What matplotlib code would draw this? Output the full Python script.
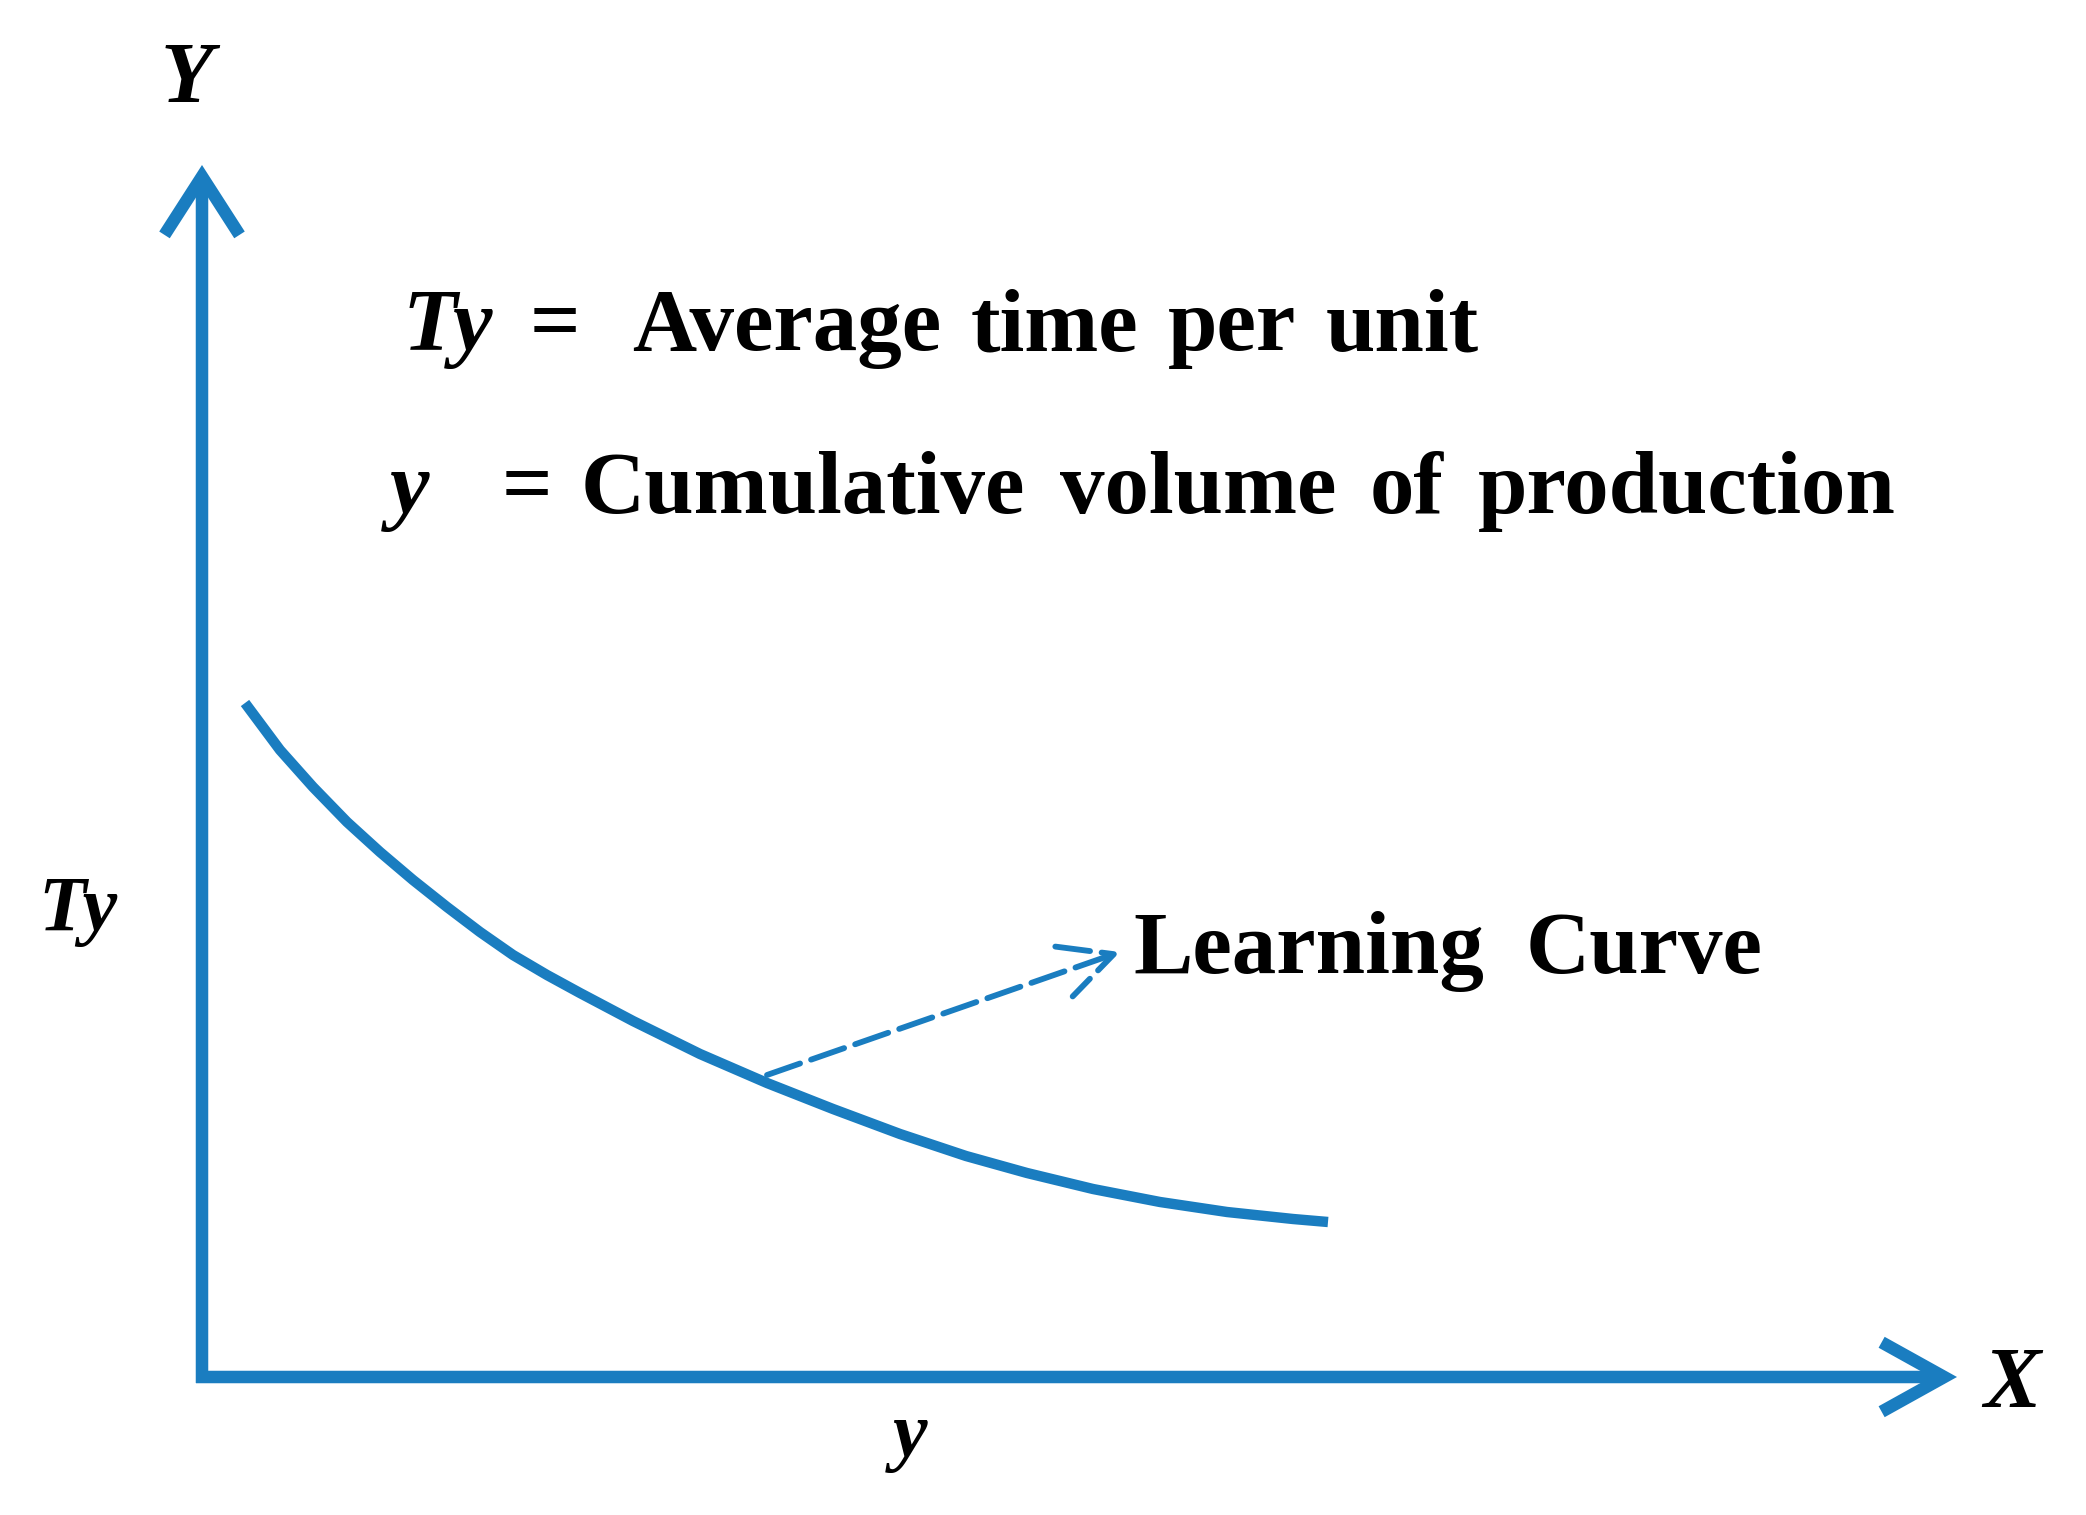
import numpy as np
import matplotlib
matplotlib.use("Agg")
import matplotlib.pyplot as plt

# learning curve (origin at the axis corner)
curve_x = [43, 78, 111, 145, 178, 211, 245, 278, 311, 345, 378, 431, 498,
           565, 631, 698, 764, 825, 891, 958, 1025, 1091, 1126]
curve_y = [674, 627, 590, 555, 525, 497, 470, 445, 422, 402, 384, 356, 323,
           294, 268, 243, 221, 204, 188, 175, 165, 158, 155]

# dashed pointer from the curve to its label
pointer_start = (565, 302)
pointer_end = (918, 425)

y_axis_top = 1212
x_axis_end = 1755

line1 = "Average time per unit"
line2 = "Cumulative volume of production"
curve_label = "Learning Curve"

blue = "#1a7dc0"
serif = "Liberation Serif"

fig = plt.figure(figsize=(20.86, 15.15), dpi=100)
ax = fig.add_axes([0, 0, 1, 1])
ax.set_xlim(-202, 2086 - 202)
ax.set_ylim(-138, 1377)
ax.axis("off")

# axes with open arrow heads
ax.annotate("", xy=(0, y_axis_top), xytext=(0, -6),
            arrowprops=dict(arrowstyle="->,head_length=42,head_width=27",
                            mutation_scale=1, lw=9, color=blue, capstyle="butt",
                            shrinkA=0, shrinkB=0, joinstyle="miter"))
ax.annotate("", xy=(x_axis_end, 0), xytext=(-6, 0),
            arrowprops=dict(arrowstyle="->,head_length=45,head_width=25",
                            mutation_scale=1, lw=9, color=blue, capstyle="butt",
                            shrinkA=0, shrinkB=0, joinstyle="miter"))

ax.plot(curve_x, curve_y, color=blue, lw=7.5, solid_capstyle="butt",
        solid_joinstyle="round")

ax.annotate("", xy=pointer_end, xytext=pointer_start,
            arrowprops=dict(arrowstyle="->,head_length=38,head_width=19",
                            mutation_scale=1, lw=4.2, color=blue,
                            linestyle=(0, (6, 2)), shrinkA=0, shrinkB=0))

# axis letters
ax.text(-15, 1275, "Y", fontsize=62, family=serif, weight="bold", style="italic",
        ha="center", va="baseline")
ax.text(1810, -30, "X", fontsize=62, family=serif, weight="bold", style="italic",
        ha="center", va="baseline")
ax.text(-124, 447, "Ty", fontsize=56, family=serif, weight="bold", style="italic",
        ha="center", va="baseline")
ax.text(708, -79, "y", fontsize=56, family=serif, weight="bold", style="italic",
        ha="center", va="baseline")


def spread(text, x0, x1, y, **kw):
    # lay the words out between x0 and x1 (the original has wide spacing)
    words = [ax.text(x0, y, w, ha="left", va="baseline", **kw) for w in text.split()]
    fig.canvas.draw()
    r = fig.canvas.get_renderer()
    inv = ax.transData.inverted()
    widths = []
    for t in words:
        bb = t.get_window_extent(r)
        a = inv.transform((bb.x0, bb.y0))
        b = inv.transform((bb.x1, bb.y0))
        widths.append(b[0] - a[0])
    gap = (x1 - x0 - sum(widths)) / max(len(words) - 1, 1)
    x = x0
    for t, w in zip(words, widths):
        t.set_x(x)
        x += w + gap


kw = dict(fontsize=64, family=serif, weight="bold")

# definitions
ax.text(201, 1027, "Ty", style="italic", ha="left", va="baseline", **kw)
ax.text(328, 1027, "=", ha="left", va="baseline", **kw)
spread(line1, 430, 1277, 1027, **kw)

ax.text(188, 864, "y", style="italic", ha="left", va="baseline", **kw)
ax.text(300, 864, "=", ha="left", va="baseline", **kw)
spread(line2, 379, 1694, 864, **kw)

spread(curve_label, 931, 1561, 404, **kw)

fig.savefig("out.png", dpi=100)
